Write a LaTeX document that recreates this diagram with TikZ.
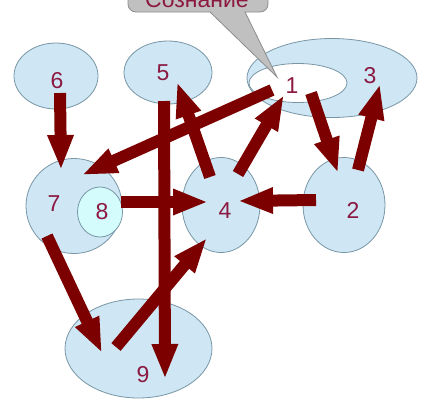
\documentclass[tikz,border=0pt]{standalone}
\usepackage{fontspec}
\setmainfont{Liberation Sans}
\usetikzlibrary{arrows.meta,shapes.geometric}
\definecolor{blobfill}{RGB}{207,231,245}
\definecolor{blobline}{RGB}{120,150,165}
\definecolor{cyanfill}{RGB}{212,252,252}
\definecolor{arrowred}{RGB}{125,0,0}
\definecolor{labelred}{RGB}{140,25,65}
\definecolor{calloutfill}{RGB}{192,192,192}
\definecolor{calloutline}{RGB}{140,140,140}
\tikzset{
  blob/.style={ellipse, draw=blobline, fill=blobfill, line width=0.8pt, inner sep=0pt},
  lbl/.style={text=labelred, font=\fontsize{23}{23}\selectfont, inner sep=0pt},
  bigarrow/.style={draw=arrowred, line width=12pt, -{Triangle[length=35pt,width=24pt]}},
}
\begin{document}
\begin{tikzpicture}[x=1pt,y=-1pt]
\useasboundingbox (0,0) rectangle (441,400);
% ellipses
\node[blob, minimum width=84pt, minimum height=66pt] (e6) at (56,76) {};
\node[blob, minimum width=88pt, minimum height=63pt] (e5) at (168,72.5) {};
\node[blob, minimum width=170pt, minimum height=79pt] (e13) at (332,78) {};
\node[blob, fill=white, minimum width=98pt, minimum height=39pt] (e1) at (298,83) {};
\node[blob, minimum width=96pt, minimum height=95pt] (e7) at (74,206) {};
\node[blob, fill=cyanfill, minimum width=45pt, minimum height=50pt] (e8) at (100,212) {};
\node[blob, minimum width=78pt, minimum height=95pt] (e4) at (221,205) {};
\node[blob, minimum width=82pt, minimum height=95pt] (e2) at (344,205) {};
\node[blob, minimum width=147pt, minimum height=99pt] (e9) at (138.5,348.5) {};
% callout
\draw[fill=calloutfill, draw=calloutline, line width=0.8pt]
  (128,-20) [rounded corners=8pt] -- (128,12) [sharp corners] -- (210,12) -- (277,77) -- (245,12) [rounded corners=8pt] -- (268,12) [sharp corners] -- (268,-20) -- cycle;
\node[lbl, anchor=base] (callout) at (197,7) {Сознание};
% labels
\node[lbl] (l1) at (292,86) {1};
\node[lbl] (l2) at (353,210) {2};
\node[lbl] (l3) at (370,76) {3};
\node[lbl] (l4) at (225,211) {4};
\node[lbl] (l5) at (163,73) {5};
\node[lbl] (l6) at (57,81) {6};
\node[lbl] (l7) at (54,204) {7};
\node[lbl] (l8) at (102,212) {8};
\node[lbl] (l9) at (143,375) {9};
% arrow end points
\coordinate (a6s) at (60,93);   \coordinate (a6t) at (61,170);
\coordinate (a17s) at (272,90); \coordinate (a17t) at (82,175);
\coordinate (a59s) at (164,101);\coordinate (a59t) at (165,379);
\coordinate (a45s) at (210,177);\coordinate (a45t) at (177,82);
\coordinate (a41s) at (238,174);\coordinate (a41t) at (284,95);
\coordinate (a12s) at (311,93); \coordinate (a12t) at (338,173);
\coordinate (a23s) at (358,170);\coordinate (a23t) at (380,84);
\coordinate (a24s) at (316,200);\coordinate (a24t) at (238,201);
\coordinate (a84s) at (121,202);\coordinate (a84t) at (208,202);
\coordinate (a79s) at (47,236); \coordinate (a79t) at (102,353);
\coordinate (a94s) at (116,347);\coordinate (a94t) at (207,238);
% arrows
\draw[bigarrow] (a6s) -- (a6t);
\draw[bigarrow] (a17s) -- (a17t);
\draw[bigarrow] (a45s) -- (a45t);
\draw[bigarrow] (a41s) -- (a41t);
\draw[bigarrow] (a12s) -- (a12t);
\draw[bigarrow] (a23s) -- (a23t);
\draw[bigarrow] (a24s) -- (a24t);
\draw[bigarrow] (a84s) -- (a84t);
\draw[bigarrow] (a79s) -- (a79t);
\draw[bigarrow] (a94s) -- (a94t);
\draw[bigarrow] (a59s) -- (a59t);
\end{tikzpicture}
\end{document}
